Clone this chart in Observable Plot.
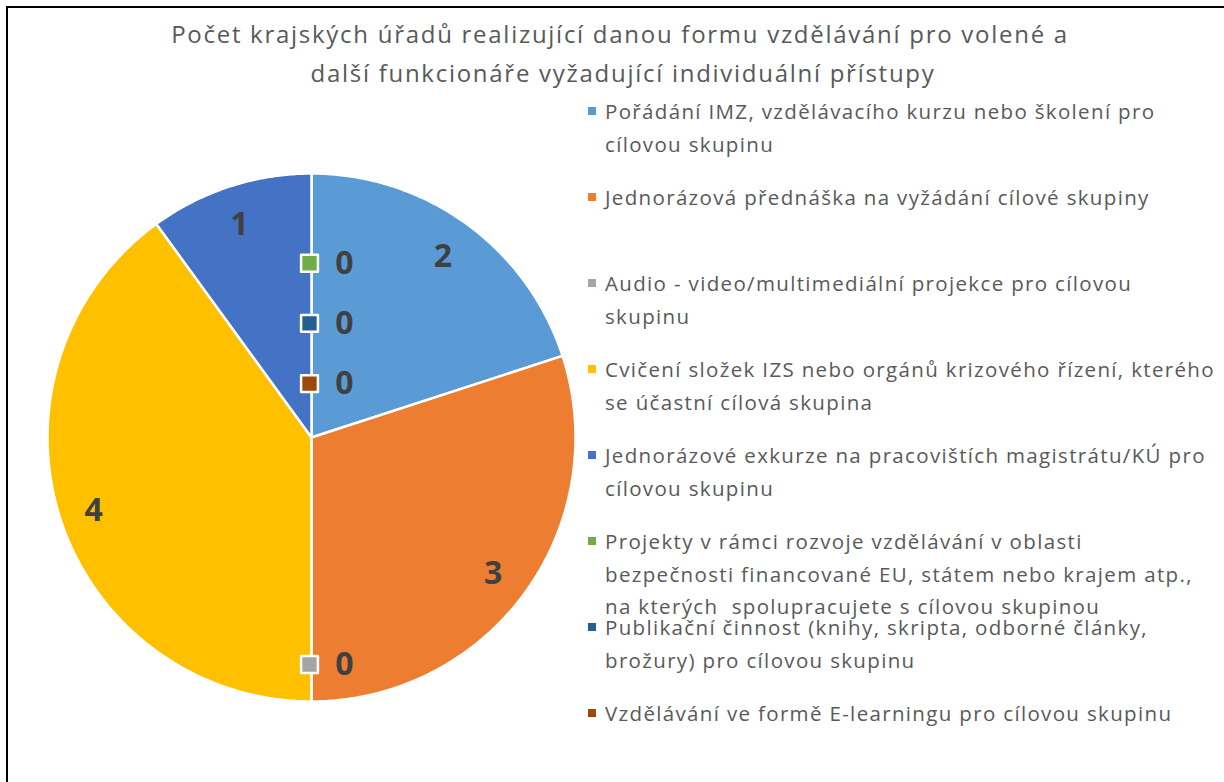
<!DOCTYPE html>
<html>
<head>
<meta charset="utf-8">
<script src="https://cdn.jsdelivr.net/npm/d3@7"></script>
<script src="https://cdn.jsdelivr.net/npm/@observablehq/plot@0.6"></script>
<style>
  html, body { margin: 0; padding: 0; background: #fff; overflow: hidden; }
  #page { position: relative; width: 1224px; height: 782px; font-family: "Open Sans", sans-serif; }
  #frame { position: absolute; left: 6px; top: 6px; width: 1240px; height: 800px; border: 2px solid #000; box-sizing: border-box; }
  .title { position: absolute; white-space: nowrap; color: #595959; font-size: 24px; line-height: 1; transform: translate(-50%, -50%); }
  .leg-text { position: absolute; white-space: nowrap; color: #595959; font-size: 20.5px; line-height: 1; transform: translateY(-50%); }
  .leg-key { position: absolute; width: 8px; height: 8px; }
  #chart { position: absolute; left: 11px; top: 137px; }
</style>
</head>
<body>
<div id="page">
  <div id="frame"></div>
  <div id="titles"></div>
  <div id="legend"></div>
  <div id="chart"></div>
</div>
<script>
const titleLines = [
  "Počet krajských úřadů realizující danou formu vzdělávání pro volené a",
  "další funkcionáře vyžadující individuální přístupy"
];
const categories = [
  "Pořádání IMZ, vzdělávacího kurzu nebo školení pro cílovou skupinu",
  "Jednorázová přednáška na vyžádání cílové skupiny",
  "Audio - video/multimediální projekce pro cílovou skupinu",
  "Cvičení složek IZS nebo orgánů krizového řízení, kterého se účastní cílová skupina",
  "Jednorázové exkurze na pracovištích magistrátu/KÚ pro cílovou skupinu",
  "Projekty v rámci rozvoje vzdělávání v oblasti bezpečnosti financované EU, státem nebo krajem atp., na kterých  spolupracujete s cílovou skupinou",
  "Publikační činnost (knihy, skripta, odborné články, brožury) pro cílovou skupinu",
  "Vzdělávání ve formě E-learningu pro cílovou skupinu"
];
const legendLines = [
  ["Pořádání IMZ, vzdělávacího kurzu nebo školení pro", "cílovou skupinu"],
  ["Jednorázová přednáška na vyžádání cílové skupiny"],
  ["Audio - video/multimediální projekce pro cílovou", "skupinu"],
  ["Cvičení složek IZS nebo orgánů krizového řízení, kterého", "se účastní cílová skupina"],
  ["Jednorázové exkurze na pracovištích magistrátu/KÚ pro", "cílovou skupinu"],
  ["Projekty v rámci rozvoje vzdělávání v oblasti", "bezpečnosti financované EU, státem nebo krajem atp.,", "na kterých\u00a0 spolupracujete s cílovou skupinou"],
  ["Publikační činnost (knihy, skripta, odborné články,", "brožury) pro cílovou skupinu"],
  ["Vzdělávání ve formě E-learningu pro cílovou skupinu"]
];
const values = [2, 3, 0, 4, 1, 0, 0, 0];
const colors = ["#5B9BD5", "#ED7D31", "#A5A5A5", "#FFC000", "#4472C4", "#70AD47", "#255E91", "#9E480E"];

// letter-spacing fit so the Open Sans text spans the same width as the original
function spacingFor(el, target) {
  const w = el.getBoundingClientRect().width;
  const n = Math.max(1, el.textContent.length - 1);
  return (target - w) / n;
}

// Titles
const titles = document.getElementById("titles");
const titleEls = titleLines.map((t, i) => {
  const d = document.createElement("div");
  d.className = "title";
  d.textContent = t;
  d.style.left = (620 + i * 3) + "px";
  d.style.top = (34 + i * 39) + "px";
  titles.appendChild(d);
  return d;
});
const tls = spacingFor(titleEls[0], 896);
titleEls.forEach(el => el.style.letterSpacing = tls + "px");

// Legend
const legend = document.getElementById("legend");
const legEls = [];
legendLines.forEach((lines, i) => {
  const y0 = 111 + i * 86;
  const k = document.createElement("div");
  k.className = "leg-key";
  k.style.left = "588px";
  k.style.top = (y0 - 4) + "px";
  k.style.background = colors[i];
  legend.appendChild(k);
  lines.forEach((ln, j) => {
    const t = document.createElement("div");
    t.className = "leg-text";
    t.textContent = ln;
    t.style.left = "605px";
    t.style.top = (y0 + j * 32.5) + "px";
    legend.appendChild(t);
    legEls.push(t);
  });
});
const lls = spacingFor(legEls[0], 549);
legEls.forEach(el => el.style.letterSpacing = lls + "px");

// Pie geometry via d3.pie (angles clockwise from 12 o'clock)
const arcs = d3.pie().sort(null).value(d => d)(values);
const slicePts = [];
arcs.forEach((a, i) => {
  if (a.value <= 0) return;
  const cat = categories[i];
  slicePts.push({cat, x: 0, y: 0});
  const n = Math.max(2, Math.ceil((a.endAngle - a.startAngle) / (Math.PI / 360)));
  for (let s = 0; s <= n; s++) {
    const ang = a.startAngle + (a.endAngle - a.startAngle) * s / n;
    slicePts.push({cat, x: Math.sin(ang), y: Math.cos(ang)});
  }
});

// Labels
const labelR = 0.86;
const nonZero = [];
const zeros = [];
const zeroGroups = d3.group(arcs.map((a, i) => ({a, i})).filter(d => d.a.value === 0), d => d.a.startAngle.toFixed(6));
arcs.forEach((a, i) => {
  const mid = (a.startAngle + a.endAngle) / 2;
  if (a.value > 0) {
    nonZero.push({cat: categories[i], v: String(a.value), x: labelR * Math.sin(mid), y: labelR * Math.cos(mid)});
  }
});
for (const [, grp] of zeroGroups) {
  grp.forEach((d, j) => {
    const mid = d.a.startAngle;
    const r = grp.length > 1 ? (labelR - 0.2 - 0.228 * j) : labelR;
    zeros.push({cat: categories[d.i], v: "0", x: r * Math.sin(mid), y: r * Math.cos(mid)});
  });
}

const R = 264, W = 600, H = 600;
const ext = (W / 2) / R;
const chart = Plot.plot({
  width: W, height: H, margin: 0,
  x: {domain: [-ext, ext], axis: null},
  y: {domain: [-ext, ext], axis: null},
  color: {domain: categories, range: colors},
  style: {background: "transparent", overflow: "visible"},
  marks: [
    Plot.line(slicePts, {x: "x", y: "y", z: "cat", fill: "cat", stroke: "#fff", strokeWidth: 2.5, curve: "linear-closed"}),
    Plot.text(nonZero, {x: "x", y: "y", text: "v", dx: -2, dy: 3, fill: "#404040", fontSize: 32, fontWeight: "bold", fontFamily: "Open Sans"}),
    Plot.dot(zeros, {x: "x", y: "y", fill: "cat", stroke: "#fff", strokeWidth: 2.5, symbol: "square", r: 9.5, dx: -2, strokeLinejoin: "round"}),
    Plot.text(zeros, {x: "x", y: "y", text: "v", dx: 33, fill: "#404040", fontSize: 32, fontWeight: "bold", fontFamily: "Open Sans"})
  ]
});
document.getElementById("chart").appendChild(chart);
</script>
</body>
</html>
